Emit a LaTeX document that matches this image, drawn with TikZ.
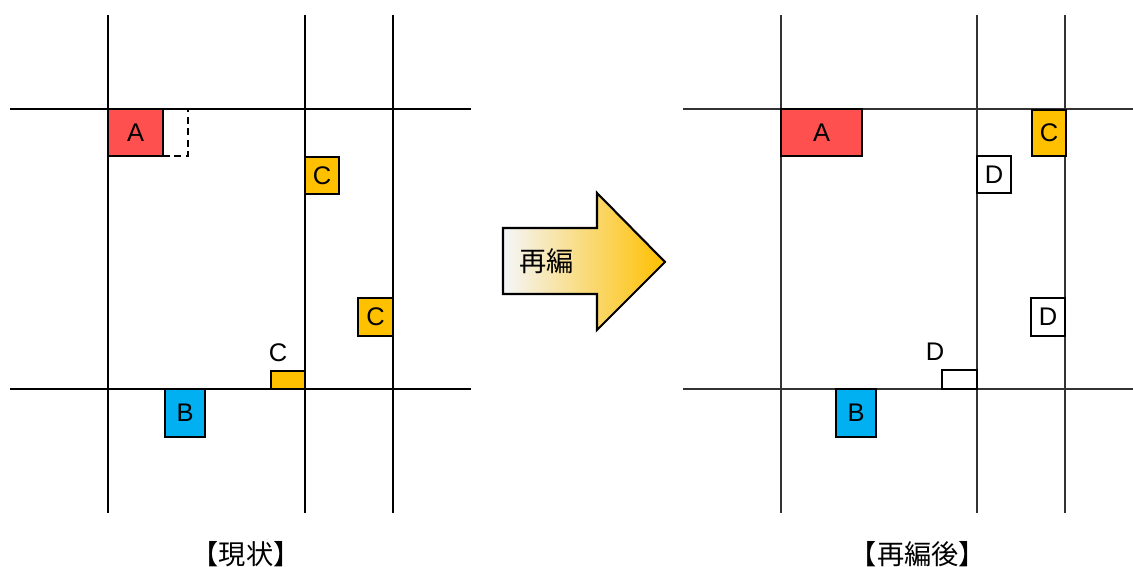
\documentclass[tikz,border=0pt]{standalone}
\usepackage{fontspec}
\setmainfont{Liberation Sans}
\newfontfamily\jpfont{Noto Sans CJK JP}
\usetikzlibrary{calc}
\definecolor{boxred}{HTML}{FF5050}
\definecolor{boxblue}{HTML}{00B0F0}
\definecolor{boxorange}{HTML}{FFC000}
\definecolor{arrowleft}{HTML}{F4F6FA}
\definecolor{arrowmid}{HTML}{FBDDB0}

\begin{document}
\begin{tikzpicture}[x=0.02cm,y=-0.02cm,font=\fontsize{14.5}{16}\selectfont]
% Styles: grid lines, boxes and captions
\tikzstyle{grid line}=[line width=0.7pt];
\tikzstyle{block}=[draw,line width=1pt,inner sep=0pt,outer sep=0pt];
\tikzstyle{caption}=[font=\jpfont\fontsize{15.5}{18}\selectfont,inner sep=0pt];
\tikzset{wh/.style 2 args={minimum width=#1*0.02cm,minimum height=#2*0.02cm}}
\useasboundingbox (0,0) rectangle (1133,567);
% Before: grid
\foreach \x in {108,305,393}
\draw[grid line](\x,15)--(\x,513);
\foreach \y in {109,389}
\draw[grid line](10,\y)--(471,\y);
% Before: boxes
\node(a1)[block,fill=boxred,wh={55}{47}]at(135.5,132.5){A};
\node(a1x)[block,dash pattern=on 4pt off 2.5pt,wh={25}{47}]at(175.5,132.5){};
\node(c1)[block,fill=boxorange,wh={34}{37}]at(322,175.5){C};
\node(c2)[block,fill=boxorange,wh={35}{38}]at(375.5,317){C};
\node(c3)[block,fill=boxorange,wh={34}{18}]at(288,380){};
\node(c3l)at(278,353){C};
\node(b1)[block,fill=boxblue,wh={40}{48}]at(185,413){B};
% After: grid
\foreach \x in {781,977,1065}
\draw[grid line,black!80](\x,15)--(\x,513);
\foreach \y in {109,389}
\draw[grid line,black!80](683,\y)--(1133,\y);
% After: boxes
\node(a2)[block,fill=boxred,wh={81}{47}]at(821.5,132.5){A};
\node(c4)[block,fill=boxorange,wh={34}{46}]at(1049,133){C};
\node(d1)[block,fill=white,wh={34}{37}]at(994,174.5){D};
\node(d2)[block,fill=white,wh={34}{38}]at(1048,317){D};
\node(d3)[block,fill=white,wh={35}{19}]at(959.5,379.5){};
\node(d3l)at(935,352){D};
\node(b2)[block,fill=boxblue,wh={40}{48}]at(856,413){B};
% The arrow
\draw[line width=1.2pt,left color=arrowleft,middle color=arrowmid,right color=boxorange]
(503,228)--(597,228)--(597,193)--(665,262)--(597,330)--(597,294)--(503,294)--cycle;
\node(re)[caption]at(546.5,261){再編};
% Captions
\node(now)[caption]at(246,554){【現状】};
\node(new)[caption]at(918,554){【再編後】};
\end{tikzpicture}
\end{document}
